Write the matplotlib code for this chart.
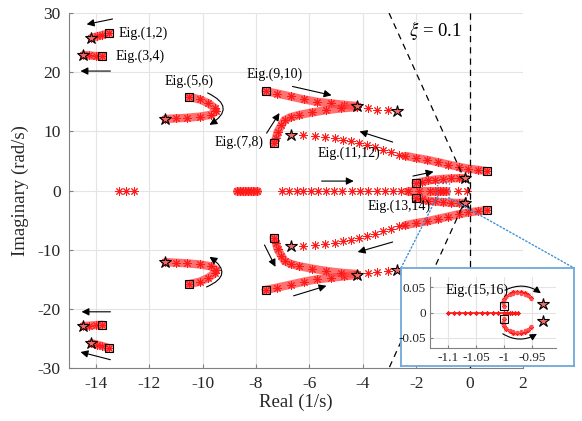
import matplotlib
matplotlib.use('Agg')
import matplotlib.pyplot as plt
from matplotlib.patches import Rectangle, ConnectionPatch
import numpy as np

plt.rcParams['font.family'] = ['Liberation Serif', 'DejaVu Serif']
plt.rcParams['mathtext.fontset'] = 'stix'

# ---------------- data (upper half-plane) ----------------
# lower half-plane branches are the complex conjugates
b12_x = [-13.52, -13.75, -13.95, -14.16]
b12_y = [26.6, 26.3, 26.05, 25.8]
b34_x = [-13.75, -14.0, -14.25, -14.46]
b34_y = [22.7, 22.75, 22.85, 22.9]
b56_x = [-10.49, -10.1, -9.8, -9.55, -9.5, -9.7, -10.1, -10.6, -11.0, -11.39]
b56_y = [15.8, 15.4, 14.8, 14.0, 13.4, 12.8, 12.5, 12.3, 12.2, 12.1]
b910_x = [-7.64, -7.2, -6.7, -6.2, -5.7, -5.2, -4.7, -4.23]
b910_y = [16.8, 16.4, 15.9, 15.4, 15.0, 14.75, 14.5, 14.3]
b78_x = [-7.34, -7.25, -7.19, -7.05, -6.93, -6.7, -6.37, -5.9, -5.36, -4.8, -4.23]
b78_y = [8.0, 8.8, 9.9, 11.0, 11.9, 12.4, 12.8, 13.2, 13.6, 13.9, 14.1]
b78s_x = [-3.82, -3.45, -3.07]
b78s_y = [13.9, 13.7, 13.55]
b1112_x = [0.64, 0.3, -0.05, -0.4, -0.8, -1.2, -1.6, -2.0, -2.4]
b1112_y = [3.3, 3.5, 3.7, 4.0, 4.4, 4.8, 5.2, 5.5, 5.85]
b1112s_x = [-2.65, -2.95, -3.25, -3.55, -3.85, -4.15, -4.45, -4.75, -5.05, -5.4, -5.8, -6.25]
b1112s_y = [6.0, 6.45, 6.85, 7.3, 7.65, 8.05, 8.35, 8.6, 8.85, 9.05, 9.25, 9.4]
b1314_x = [-2.02, -1.8, -1.55, -1.3, -1.0, -0.7, -0.4, -0.19]
b1314_y = [1.27, 1.5, 1.7, 1.85, 1.97, 2.05, 2.1, 2.1]

real_sparse = [-13.11, -12.85, -12.55,
               -7.04, -6.78, -6.48, -6.22, -5.92, -5.66, -5.36, -5.06, -4.76,
               -4.42, -4.12, -3.82, -3.48, -3.18, -2.88, -2.55, -2.32,
               -0.45, -0.11]
real_dense_a = [-8.72, -8.6, -8.5, -8.4, -8.3, -8.2, -8.1, -7.95]
real_dense_b = [-2.3, -1.9, -1.5, -1.3]
real_dense_c = [-1.2, -1.1, -1.0, -0.9]

star_x = [-14.16, -14.46, -11.39, -4.23, -2.73, -6.67, -0.19]
star_y = [25.8, 22.9, 12.1, 14.3, 13.5, 9.4, 2.1]
sq_x = [-13.52, -13.75, -10.49, -7.64, -7.34, 0.64, -2.02]
sq_y = [26.6, 22.7, 15.8, 16.8, 8.0, 3.3, 1.27]

# inset (Eig.(15,16))
in_real_x = [-1.1, -1.09, -1.08, -1.07, -1.06, -1.05, -1.04, -1.03, -1.02,
             -1.01, -1.0, -0.995, -0.99, -0.985, -0.98, -0.975]
in_arc_x = [-1.0, -1.002, -1.0, -0.996, -0.99, -0.984, -0.977, -0.97,
            -0.963, -0.957, -0.952]
in_arc_y = [0.012, 0.02, 0.027, 0.033, 0.037, 0.04, 0.041, 0.04,
            0.038, 0.034, 0.029]
in_star_x = [-0.931, -0.931]
in_star_y = [0.016, -0.016]
in_sq_x = [-1.0, -1.0]
in_sq_y = [0.012, -0.012]

zeta = 0.1

# arrows: (start, end, curvature)
arrows = [((-13.37, 29.0), (-14.34, 28.1), 0),
          ((-13.45, 20.2), (-14.57, 20.2), 0),
          ((-9.81, 16.5), (-9.74, 11.1), -0.9),
          ((-6.63, 17.6), (-5.17, 16.1), 0),
          ((-7.60, 9.7), (-7.12, 13.1), 0),
          ((-2.88, 8.2), (-4.12, 10.0), 0),
          ((-5.54, 1.6), (-4.34, 1.6), 0),
          ((-2.12, 2.45), (-1.35, 3.18), 0),
          ((-13.45, -20.5), (-14.53, -20.5), 0),
          ((-13.45, -28.6), (-14.57, -27.3), 0),
          ((-9.85, -16.3), (-9.74, -11.2), 0.9),
          ((-2.88, -8.7), (-4.19, -10.4), 0),
          ((-7.68, -9.2), (-7.27, -12.9), 0),
          ((-6.59, -17.8), (-5.36, -16.1), 0)]

labels = [(-13.15, 26.6, 'Eig.(1,2)', 'left'),
          (-13.26, 22.7, 'Eig.(3,4)', 'left'),
          (-10.49, 18.5, 'Eig.(5,6)', 'center'),
          (-8.35, 19.7, 'Eig.(9,10)', 'left'),
          (-7.71, 8.2, 'Eig.(7,8)', 'right'),
          (-5.69, 6.3, 'Eig.(11,12)', 'left'),
          (-3.82, -2.6, 'Eig.(13,14)', 'left')]

AST = (8, 2, 0)
RED = '#ff1a1a'
BAND = '#ff4040'

fig = plt.figure(figsize=(5.82, 4.21), dpi=100)
ax = fig.add_axes([0.1186, 0.1259, 0.78, 0.843])


def branch(a, xs, ys, dense=True, mirror=True, ms=6, lw=6):
    signs = (1, -1) if mirror else (1,)
    for s in signs:
        yy = [s * v for v in ys]
        if dense:
            a.plot(xs, yy, '-', color=BAND, lw=lw, alpha=0.75,
                   solid_capstyle='round', zorder=2)
        a.plot(xs, yy, ls='none', marker=AST, ms=ms, mec=RED, mew=0.7, zorder=2)


for bx, by in [(b12_x, b12_y), (b34_x, b34_y), (b56_x, b56_y),
               (b910_x, b910_y), (b78_x, b78_y), (b1112_x, b1112_y),
               (b1314_x, b1314_y)]:
    branch(ax, bx, by)
branch(ax, b78s_x, b78s_y, dense=False)
branch(ax, b1112s_x, b1112s_y, dense=False)

ax.plot(real_sparse, np.zeros(len(real_sparse)), ls='none', marker=AST, ms=6,
        mec=RED, mew=0.7, zorder=2)
for rd in (real_dense_a, real_dense_b, real_dense_c):
    branch(ax, rd, np.zeros(len(rd)), mirror=False, lw=6.5)

for s in (1, -1):
    ax.plot(star_x, [s * v for v in star_y], ls='none', marker='*', ms=9,
            mfc='#f46a6a', mec='k', mew=0.8, zorder=5)
    ax.plot(sq_x, [s * v for v in sq_y], ls='none', marker='s', ms=6,
            mfc='none', mec='k', mew=0.8, zorder=5)

# damping line and imaginary axis
wn = 30 / np.sqrt(1 - zeta ** 2)
ax.plot([-zeta * wn, 0, -zeta * wn], [30, 0, -30], '--', color='k', lw=0.9,
        dashes=(5, 4), zorder=3)
ax.plot([0, 0], [-30, 30], '--', color='k', lw=0.9, dashes=(5, 4), zorder=3)
ax.text(-2.25, 27.1, r'$\xi$ = 0.1', fontsize=13.5, va='center', ha='left')

for (p0, p1, rad) in arrows:
    ax.annotate('', xy=p1, xytext=p0,
                arrowprops=dict(arrowstyle='-|>', color='k', lw=0.8,
                                mutation_scale=11, shrinkA=0, shrinkB=0,
                                connectionstyle='arc3,rad=%g' % rad),
                zorder=4)

for x, y, t, ha in labels:
    ax.text(x, y, t, fontsize=10, ha=ha, va='center', zorder=6)

# zoom box
ax.add_patch(Rectangle((-1.23, -1.2), 0.45, 2.4, fill=False, ls=':',
                       ec='#3d8fd6', lw=1.0, zorder=6))

ax.set_xlim(-15, 2)
ax.set_ylim(-30, 30)
ax.set_xticks(np.arange(-14, 3, 2))
ax.set_yticks(np.arange(-30, 31, 10))
ax.set_xticklabels([str(v) for v in range(-14, 3, 2)])
ax.set_yticklabels([str(v) for v in range(-30, 31, 10)])
ax.grid(True, color='#e4e4e4', lw=0.8)
ax.set_axisbelow(True)
for sp in ('top', 'right'):
    ax.spines[sp].set_visible(False)
for sp in ('left', 'bottom'):
    ax.spines[sp].set_color('#808080')
ax.tick_params(direction='in', length=3, color='#808080', labelsize=12.5,
               labelcolor='#262626', pad=6)
ax.set_xlabel('Real (1/s)', fontsize=13.5, color='#262626', labelpad=1)
ax.set_ylabel('Imaginary (rad/s)', fontsize=13.5, color='#262626', labelpad=6)

# blue frame and inset
box = fig.add_axes([0.689, 0.1306, 0.2973, 0.2328], zorder=3)
box.set_xticks([])
box.set_yticks([])
for sp in box.spines.values():
    sp.set_color('#6fa8dc')
    sp.set_linewidth(1.3)

ins = fig.add_axes([0.7388, 0.1734, 0.2165, 0.1686], zorder=4)
ins.patch.set_alpha(0)
ins.plot(in_real_x, np.zeros(len(in_real_x)), ls='-', color=RED, lw=1.2,
         marker=AST, ms=3, mec=RED, mew=0.6, zorder=2)
for s in (1, -1):
    ins.plot(in_arc_x, [s * v for v in in_arc_y], ls='none', marker=AST, ms=3.5,
             mec=RED, mew=0.6, zorder=2)
    ins.plot(in_arc_x, [s * v * 0.93 for v in in_arc_y], ls='none', marker='.',
             ms=3, color='#ff5050', zorder=2)
ins.plot(in_star_x, in_star_y, ls='none', marker='*', ms=9, mfc='#f46a6a',
         mec='k', mew=0.8, zorder=5)
ins.plot(in_sq_x, in_sq_y, ls='none', marker='s', ms=6, mfc='none', mec='k',
         mew=0.8, zorder=5)
ins.annotate('', xy=(-0.934, 0.038), xytext=(-0.998, 0.044),
             arrowprops=dict(arrowstyle='-|>', color='k', lw=0.8, mutation_scale=10,
                             shrinkA=0, shrinkB=0, connectionstyle='arc3,rad=-0.3'),
             annotation_clip=False)
ins.annotate('', xy=(-0.941, -0.042), xytext=(-1.002, -0.042),
             arrowprops=dict(arrowstyle='-|>', color='k', lw=0.8, mutation_scale=10,
                             shrinkA=0, shrinkB=0, connectionstyle='arc3,rad=0.3'),
             annotation_clip=False)
ins.text(-1.105, 0.044, 'Eig.(15,16)', fontsize=10, va='center', ha='left')
ins.set_xlim(-1.132, -0.907)
ins.set_ylim(-0.07, 0.07)
ins.set_xticks([-1.1, -1.05, -1.0, -0.95])
ins.set_xticklabels(['-1.1', '-1.05', '-1', '-0.95'])
ins.set_yticks([-0.05, 0, 0.05])
ins.set_yticklabels(['-0.05', '0', '0.05'])
ins.grid(True, color='#e4e4e4', lw=0.8)
ins.set_axisbelow(True)
for sp in ('top', 'right'):
    ins.spines[sp].set_visible(False)
for sp in ('left', 'bottom'):
    ins.spines[sp].set_color('#808080')
ins.tick_params(direction='in', length=2, color='#808080', labelsize=9.5,
                labelcolor='#262626', pad=3)

# connectors from zoom box to blue frame
for xa, xb in [(-1.23, 0.689), (-0.78, 0.689 + 0.2973)]:
    con = ConnectionPatch(xyA=(xa, -1.2), coordsA=ax.transData,
                          xyB=(xb, 0.1306 + 0.2328), coordsB=fig.transFigure,
                          ls=':', color='#3d8fd6', lw=1.0)
    fig.add_artist(con)

fig.savefig('out.png', dpi=100)
